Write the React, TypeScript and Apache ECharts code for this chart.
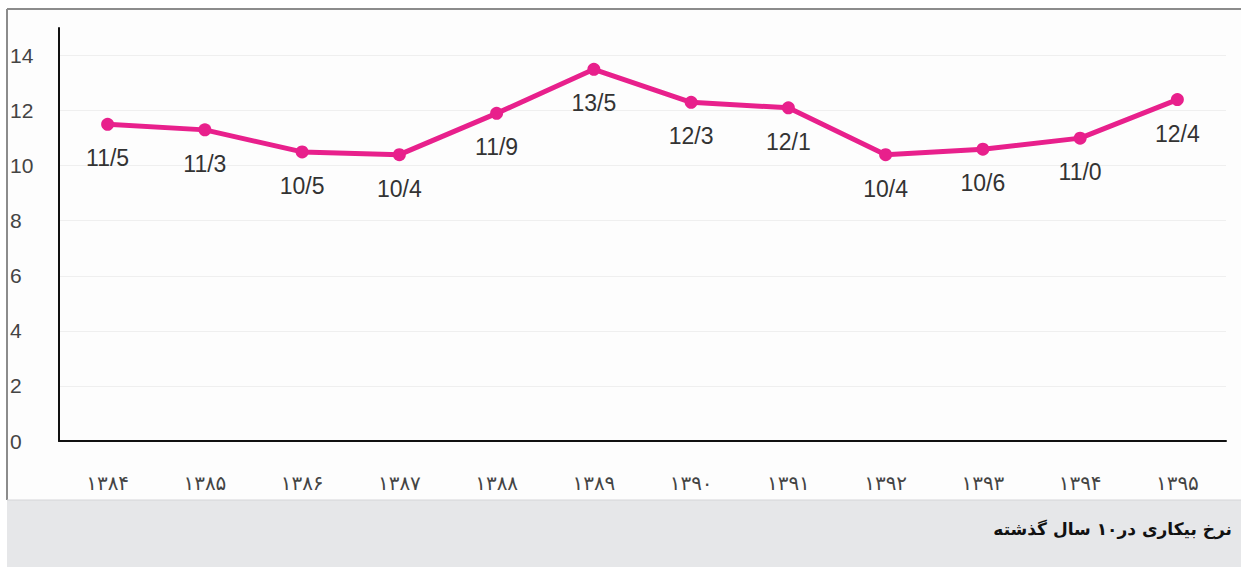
import React, { useEffect, useRef } from "react";
import * as echarts from "echarts";

const years = ["۱۳۸۴", "۱۳۸۵", "۱۳۸۶", "۱۳۸۷", "۱۳۸۸", "۱۳۸۹", "۱۳۹۰", "۱۳۹۱", "۱۳۹۲", "۱۳۹۳", "۱۳۹۴", "۱۳۹۵"];
const rates = [11.5, 11.3, 10.5, 10.4, 11.9, 13.5, 12.3, 12.1, 10.4, 10.6, 11.0, 12.4];
const rateLabels = ["11/5", "11/3", "10/5", "10/4", "11/9", "13/5", "12/3", "12/1", "10/4", "10/6", "11/0", "12/4"];
const title = "نرخ بیکاری در۱۰ سال گذشته";

export default function App() {
  const ref = useRef<HTMLDivElement>(null);
  useEffect(() => {
    if (!ref.current) return;
    const chart = echarts.init(ref.current, undefined, { renderer: "svg" });
    chart.setOption({
      animation: false,
      backgroundColor: "#ffffff",
      graphic: [
        { type: "rect", shape: { x: 7, y: 9, width: 1234, height: 491 }, style: { fill: "#fdfdfd" }, z: -10 },
        { type: "rect", shape: { x: 7, y: 500, width: 1234, height: 67 }, style: { fill: "#e6e7e9" }, z: -10 },
        { type: "line", shape: { x1: 7, y1: 9, x2: 1241, y2: 9 }, style: { stroke: "#8c8c8c", lineWidth: 2 } },
        { type: "line", shape: { x1: 7, y1: 9, x2: 7, y2: 500 }, style: { stroke: "#8c8c8c", lineWidth: 2 } },
        { type: "line", shape: { x1: 7, y1: 500, x2: 1241, y2: 500 }, style: { stroke: "#d4d5d8", lineWidth: 1 } },
        {
          type: "text",
          right: 9,
          top: 520,
          style: {
            text: title,
            font: "bold 17px 'DejaVu Sans', 'Noto Sans', sans-serif",
            fill: "#111",
            textAlign: "right",
          },
        },
      ],
      grid: { left: 59, right: 15, top: 28, bottom: 126 },
      xAxis: {
        type: "category",
        data: years,
        boundaryGap: true,
        axisLine: { show: true, lineStyle: { color: "#111", width: 2 } },
        axisTick: { show: false },
        axisLabel: { color: "#444", fontSize: 20, margin: 32, fontFamily: "'DejaVu Sans', sans-serif" },
        splitLine: { show: false },
      },
      yAxis: {
        type: "value",
        min: 0,
        max: 15,
        interval: 2,
        axisLine: { show: true, lineStyle: { color: "#111", width: 2 } },
        axisTick: { show: false },
        axisLabel: {
          color: "#444",
          fontSize: 21,
          align: "left",
          margin: 49,
          showMaxLabel: false,
          fontFamily: "'Liberation Sans', Arial, sans-serif",
        },
        splitLine: { show: true, showMaxLine: false, lineStyle: { color: "#efefef", width: 1 } },
      },
      series: [
        {
          type: "line",
          data: rates,
          symbol: "circle",
          symbolSize: 13,
          lineStyle: { color: "#e8208c", width: 5 },
          itemStyle: { color: "#e8208c" },
          label: {
            show: true,
            position: "bottom",
            distance: 16,
            color: "#333",
            fontSize: 23,
            fontFamily: "'Liberation Sans', Arial, sans-serif",
            formatter: (p: any) => rateLabels[p.dataIndex],
          },
        },
      ],
    });
    return () => chart.dispose();
  }, []);
  return <div ref={ref} style={{ position: "absolute", left: 0, top: 0, width: 1241, height: 567 }} />;
}
